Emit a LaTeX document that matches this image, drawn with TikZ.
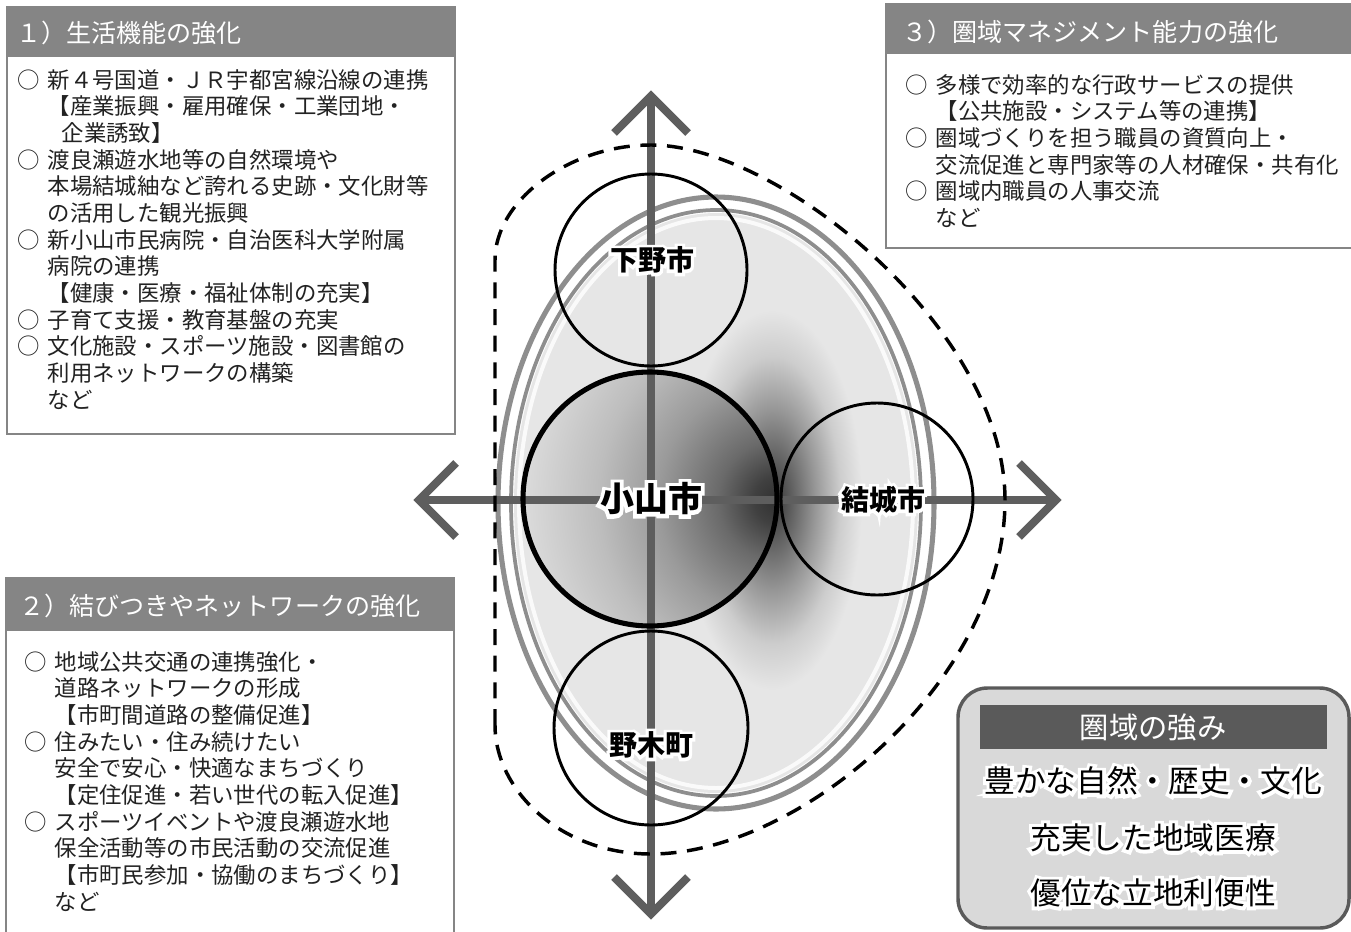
\documentclass[tikz,border=0pt]{standalone}
\usepackage{fontspec}
\setmainfont{Noto Sans CJK JP}
\newfontfamily\halofont[FakeBold=22, BoldFeatures={FakeBold=22}]{Noto Sans CJK JP}
\definecolor{hdr}{HTML}{858585}
\definecolor{axis}{HTML}{5E5E5E}
\definecolor{ring}{HTML}{8E8E8E}
\definecolor{strong}{HTML}{5A5A5A}
\definecolor{panel}{HTML}{D9D9D9}
\definecolor{txt}{HTML}{222222}
\definecolor{bg}{HTML}{E6E6E6}
\definecolor{g0}{HTML}{333333}
\definecolor{g1}{HTML}{5C5C5C}
\definecolor{g2}{HTML}{979797}
\definecolor{g3}{HTML}{CDCDCD}
\definecolor{k0}{HTML}{303030}
\definecolor{k1}{HTML}{404040}
\definecolor{k2}{HTML}{6A6A6A}
\definecolor{k3}{HTML}{9A9A9A}
\definecolor{k4}{HTML}{BDBDBD}
\definecolor{k5}{HTML}{DADADA}
\pgfdeclareradialshading{glowshade}{\pgfpoint{0bp}{0bp}}{color(0bp)=(g0); color(5bp)=(g1); color(12bp)=(g2); color(19bp)=(g3); color(25bp)=(bg); color(50bp)=(bg)}
\pgfdeclareradialshading{coreshade}{\pgfpoint{0bp}{0bp}}{color(0bp)=(k0); color(2bp)=(k1); color(5bp)=(k2); color(10bp)=(k3); color(15bp)=(k4); color(21bp)=(k5); color(50bp)=(k5)}
\newcommand\myitem{\makebox[22.5pt][l]{○}}
\newcommand\mycont{\hspace*{22.5pt}}
\newcommand\halotext[1]{\makebox[0pt][l]{\halofont\color{white}#1}#1}
\tikzset{
  frame/.style={draw=hdr, line width=1.5pt},
  hdrtext/.style={anchor=west, inner sep=0pt, text=white, font=\fontsize{18.8pt}{22pt}\selectfont},
  body/.style={anchor=north west, inner sep=0pt, align=left, text=txt, font=\fontsize{16.8pt}{20pt}\selectfont},
  axisline/.style={draw=axis, line width=6pt},
  chev/.style={draw=axis, line width=6pt, miter limit=10, line join=miter},
  city/.style={circle, draw=black, line width=2.2pt, inner sep=0pt},
  citylbl/.style={inner sep=0pt, font=\bfseries\fontsize{21pt}{24pt}\selectfont},
  bigdash/.style={draw=black, line width=2.6pt, dash pattern=on 12pt off 8pt},
  strength/.style={inner sep=0pt, font=\fontsize{23pt}{26pt}\selectfont},
}
\begin{document}
\begin{tikzpicture}[x=0.75pt,y=-0.75pt]
\useasboundingbox (0,0) rectangle (1351,931);
\fill[white] (0,0) rectangle (1351,931);

% ---- box 1
\fill[hdr] (7,7) rectangle (455,57);
\draw[frame] (7,7) rectangle (455,434);
\node[hdrtext] (h1) at (16,33) {１）生活機能の強化};
\node[body] (b1) at (17.5,69) {\myitem 新４号国道・ＪＲ宇都宮線沿線の連携\\
\mycont【産業振興・雇用確保・工業団地・\\
\mycont\hspace*{10.5pt}企業誘致】\\
\myitem 渡良瀬遊水地等の自然環境や\\
\mycont 本場結城紬など誇れる史跡・文化財等\\
\mycont の活用した観光振興\\
\myitem 新小山市民病院・自治医科大学附属\\
\mycont 病院の連携\\
\mycont【健康・医療・福祉体制の充実】\\
\myitem 子育て支援・教育基盤の充実\\
\myitem 文化施設・スポーツ施設・図書館の\\
\mycont 利用ネットワークの構築\\
\mycont など};

% ---- box 2
\fill[hdr] (6,578) rectangle (454,631);
\draw[frame] (6,578) rectangle (454,945);
\node[hdrtext] (h2) at (19,606) {２）結びつきやネットワークの強化};
\node[body] (b2) at (24.5,651) {\myitem 地域公共交通の連携強化・\\
\mycont 道路ネットワークの形成\\
\mycont【市町間道路の整備促進】\\
\myitem 住みたい・住み続けたい\\
\mycont 安全で安心・快適なまちづくり\\
\mycont【定住促進・若い世代の転入促進】\\
\myitem スポーツイベントや渡良瀬遊水地\\
\mycont 保全活動等の市民活動の交流促進\\
\mycont【市町民参加・協働のまちづくり】\\
\mycont など};

% ---- box 3
\fill[hdr] (886,4) rectangle (1365,54);
\draw[frame] (886,4) rectangle (1365,248);
\node[hdrtext] (h3) at (902,32) {３）圏域マネジメント能力の強化};
\node[body] (b3) at (905.5,74) {\myitem 多様で効率的な行政サービスの提供\\
\mycont【公共施設・システム等の連携】\\
\myitem 圏域づくりを担う職員の資質向上・\\
\mycont 交流促進と専門家等の人材確保・共有化\\
\myitem 圏域内職員の人事交流\\
\mycont など};

% ---- box 4
\draw[rounded corners=22pt, draw=strong, line width=2.6pt, fill=panel] (958,688) rectangle (1349,928);
\fill[strong] (980,705) rectangle (1327,749);
\node[inner sep=0pt, text=white, font=\fontsize{22pt}{26pt}\selectfont] (s0) at (1153,727) {圏域の強み};
\node[strength] (s1) at (1153,781) {\halotext{豊かな自然・歴史・文化}};
\node[strength] (s2) at (1153,838) {\halotext{充実した地域医療}};
\node[strength] (s3) at (1153,893) {\halotext{優位な立地利便性}};

% ---- big ellipse
\fill[white] (716,503) ellipse [x radius=218, y radius=306];
\begin{scope}
  \clip (716,503) ellipse [x radius=202, y radius=290];
  \fill[bg] (480,180) rectangle (960,820);
  \shade[shading=glowshade] (772,500) ellipse [x radius=90, y radius=190];
  \clip (650,499) circle [radius=127];
  \shade[shading=coreshade] (778,500) circle [radius=300];
\end{scope}
\draw[white, line width=3pt, opacity=0.8] (716,503) ellipse [x radius=197, y radius=285];
\draw[ring, line width=3.8pt] (716,503) ellipse [x radius=218, y radius=306];
\draw[ring, line width=2.8pt] (716,503) ellipse [x radius=205, y radius=293];

% ---- axes
\coordinate (N) at (651,96);
\coordinate (S) at (651,914);
\coordinate (W) at (419,500);
\coordinate (E) at (1056,500);
\draw[axisline] (N) -- (S);
\draw[axisline] (W) -- (E);
\draw[chev] (N) ++(-37,37) -- (N) -- ++(37,37);
\draw[chev] (S) ++(-37,-37) -- (S) -- ++(37,-37);
\draw[chev] (W) ++(37,-37) -- (W) -- ++(37,37);
\draw[chev] (E) ++(-37,-37) -- (E) -- ++(-37,37);

% ---- city circles
\node[city, minimum size=144pt] (shimotsuke) at (651,270) {};
\node[city, minimum size=190.5pt, line width=3.8pt] (oyama) at (650,499) {};
\node[city, minimum size=144pt] (yuki) at (877,499) {};
\node[city, minimum size=145.5pt] (nogi) at (651,728) {};

% ---- dashed region
\draw[bigdash] (495,725) -- (495,260) .. controls (495,200) and (570,145) .. (651,145)
  .. controls (780,145) and (1005,330) .. (1005,500)
  .. controls (1005,680) and (800,854) .. (651,854)
  .. controls (560,854) and (495,790) .. (495,725) -- cycle;

% ---- labels
\node[citylbl] (lshimotsuke) at (652,260) {\halotext{下野市}};
\node[citylbl, font=\bfseries\fontsize{25.5pt}{28pt}\selectfont] (loyama) at (651,499) {\halotext{小山市}};
\node[citylbl] (lyuki) at (883,500) {\halotext{結城市}};
\node[citylbl] (lnogi) at (651,745) {\halotext{野木町}};
\end{tikzpicture}
\end{document}
